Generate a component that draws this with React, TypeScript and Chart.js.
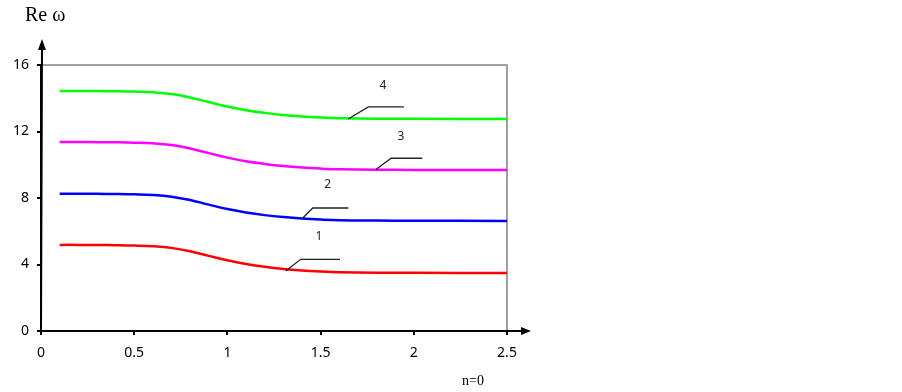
import React, { useEffect, useRef } from "react";
import { Chart, registerables } from "chart.js";

Chart.register(...registerables);

const xValues = [0.1, 0.2, 0.3, 0.4, 0.5, 0.6, 0.7, 0.8, 0.9, 1.0, 1.1, 1.2, 1.3, 1.4, 1.5, 1.6, 1.8, 2.0, 2.5];
const curve1 = [5.18, 5.18, 5.17, 5.16, 5.14, 5.1, 5.0, 4.8, 4.52, 4.25, 4.03, 3.86, 3.73, 3.64, 3.58, 3.54, 3.51, 3.5, 3.49];
const curve2 = [8.26, 8.26, 8.25, 8.24, 8.22, 8.18, 8.08, 7.88, 7.6, 7.34, 7.13, 6.97, 6.85, 6.76, 6.7, 6.66, 6.64, 6.63, 6.62];
const curve3 = [11.37, 11.37, 11.36, 11.35, 11.33, 11.29, 11.19, 10.98, 10.7, 10.43, 10.21, 10.05, 9.92, 9.83, 9.77, 9.73, 9.7, 9.69, 9.68];
const curve4 = [14.44, 14.44, 14.43, 14.42, 14.4, 14.36, 14.26, 14.05, 13.77, 13.5, 13.28, 13.12, 12.99, 12.9, 12.84, 12.8, 12.77, 12.76, 12.75];
const curveColors = ["#ff0000", "#0000ff", "#ff00ff", "#00ff00"];
const curveNames = ["1", "2", "3", "4"];

// leader annotations (data units): start on curve, elbow, end x, label position
const leaderStartX = [1.313, 1.399, 1.797, 1.648];
const leaderStartY = [3.61, 6.74, 9.72, 12.75];
const leaderElbowX = [1.393, 1.458, 1.878, 1.756];
const leaderElbowY = [4.31, 7.4, 10.39, 13.48];
const leaderEndX = [1.604, 1.649, 2.045, 1.947];
const labelX = [1.491, 1.538, 1.931, 1.835];
const labelY = [5.67, 8.78, 11.69, 14.78];

const xMin = 0, xMax = 2.5, xStep = 0.5;
const yMin = 0, yMax = 16, yStep = 4;
const yTitle = "Re ω";
const xNote = "n=0";

const decorPlugin = {
  id: "decor",
  beforeDatasetsDraw(chart: any) {
    const { ctx, chartArea } = chart;
    ctx.save();
    ctx.strokeStyle = "#a0a0a0";
    ctx.lineWidth = 2;
    ctx.beginPath();
    ctx.moveTo(chartArea.left, chartArea.top);
    ctx.lineTo(chartArea.right, chartArea.top);
    ctx.lineTo(chartArea.right, chartArea.bottom);
    ctx.stroke();
    ctx.restore();
  },
  afterDraw(chart: any) {
    const { ctx, chartArea, scales } = chart;
    const xs = scales.x, ys = scales.y;
    ctx.save();
    // axes with arrows
    ctx.strokeStyle = "#000";
    ctx.fillStyle = "#000";
    ctx.lineWidth = 2;
    ctx.beginPath();
    ctx.moveTo(chartArea.left, chartArea.bottom);
    ctx.lineTo(chartArea.right + 18, chartArea.bottom);
    ctx.moveTo(chartArea.left, chartArea.bottom);
    ctx.lineTo(chartArea.left + 1, chartArea.top - 18);
    ctx.stroke();
    ctx.beginPath();
    ctx.moveTo(chartArea.right + 24, chartArea.bottom);
    ctx.lineTo(chartArea.right + 14, chartArea.bottom - 4);
    ctx.lineTo(chartArea.right + 14, chartArea.bottom + 4);
    ctx.closePath();
    ctx.fill();
    ctx.beginPath();
    ctx.moveTo(chartArea.left + 1, chartArea.top - 26);
    ctx.lineTo(chartArea.left - 3, chartArea.top - 15);
    ctx.lineTo(chartArea.left + 5, chartArea.top - 15);
    ctx.closePath();
    ctx.fill();

    // leaders
    ctx.strokeStyle = "#222";
    ctx.lineWidth = 1.3;
    ctx.font = "12px 'Noto Sans', sans-serif";
    ctx.textAlign = "center";
    ctx.textBaseline = "middle";
    ctx.fillStyle = "#222";
    for (let i = 0; i < curveNames.length; i++) {
      const ex = xs.getPixelForValue(leaderElbowX[i]);
      const ey = ys.getPixelForValue(leaderElbowY[i]);
      ctx.beginPath();
      ctx.moveTo(xs.getPixelForValue(leaderStartX[i]), ys.getPixelForValue(leaderStartY[i]));
      ctx.lineTo(ex, ey);
      ctx.lineTo(xs.getPixelForValue(leaderEndX[i]), ey);
      ctx.stroke();
      ctx.fillText(curveNames[i], xs.getPixelForValue(labelX[i]), ys.getPixelForValue(labelY[i]));
    }

    // titles
    ctx.fillStyle = "#000";
    ctx.textAlign = "left";
    ctx.textBaseline = "alphabetic";
    ctx.font = "20px 'Liberation Serif', serif";
    ctx.fillText(yTitle, 25, 21);
    ctx.font = "14px 'Liberation Serif', serif";
    ctx.fillText(xNote, 462, 385);
    ctx.restore();
  },
};

export default function App() {
  const ref = useRef<HTMLCanvasElement>(null);
  useEffect(() => {
    if (!ref.current) return;
    const datasets = [curve1, curve2, curve3, curve4].map((arr, i) => ({
      label: curveNames[i],
      data: xValues.map((x, j) => ({ x, y: arr[j] })),
      borderColor: curveColors[i],
      backgroundColor: curveColors[i],
      borderWidth: 2.5,
      pointRadius: 0,
      tension: 0.4,
      fill: false,
    }));
    const tickFont = { family: "'Noto Sans', sans-serif", size: 14 };
    const chart = new Chart(ref.current, {
      type: "line",
      data: { datasets },
      options: {
        animation: false,
        responsive: true,
        maintainAspectRatio: false,
        layout: { padding: { top: 65, right: 395, left: 0, bottom: 0 } },
        plugins: { legend: { display: false }, tooltip: { enabled: false } },
        scales: {
          x: {
            type: "linear",
            min: xMin,
            max: xMax,
            afterFit: (s: any) => { s.height = 61; },
            ticks: {
              stepSize: xStep,
              color: "#000",
              font: tickFont,
              padding: 10,
              maxRotation: 0,
              callback: (v: any) => String(Math.round(Number(v) * 10) / 10),
            },
            grid: { display: true, drawOnChartArea: false, drawTicks: true, tickLength: 4, color: "#000", lineWidth: 2 },
            border: { display: true, color: "#000", width: 2 },
          },
          y: {
            type: "linear",
            min: yMin,
            max: yMax,
            afterFit: (s: any) => { s.width = 41; },
            ticks: { stepSize: yStep, color: "#000", font: tickFont, padding: 8 },
            grid: { display: true, drawOnChartArea: false, drawTicks: true, tickLength: 4, color: "#000", lineWidth: 2 },
            border: { display: true, color: "#000", width: 2 },
          },
        },
      },
      plugins: [decorPlugin],
    });
    return () => chart.destroy();
  }, []);
  return (
    <div style={{ position: "absolute", left: 0, top: 0, width: 902, height: 392, background: "#fff" }}>
      <canvas ref={ref} />
    </div>
  );
}
